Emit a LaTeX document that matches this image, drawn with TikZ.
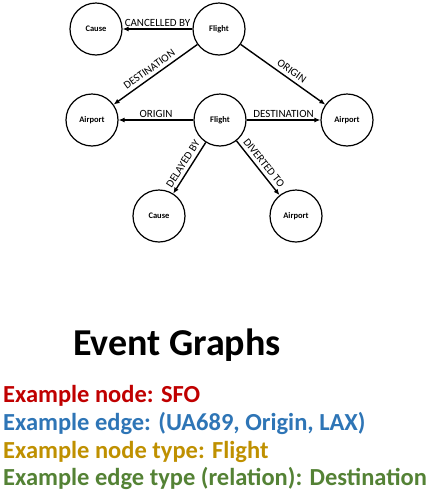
\documentclass[tikz,border=0pt]{standalone}
\usepackage{fontspec}
\setmainfont{Carlito}
\usetikzlibrary{arrows.meta}
\definecolor{cred}{RGB}{192,0,0}
\definecolor{cblue}{RGB}{46,117,182}
\definecolor{cgold}{RGB}{191,144,0}
\definecolor{cgreen}{RGB}{84,130,53}
\tikzset{
  ent/.style={circle, draw=black, line width=1.2pt, minimum size=52pt, inner sep=0pt, font=\fontsize{8.5}{9}\selectfont\bfseries},
  rel/.style={line width=1.4pt, -{Latex[length=6pt,width=5pt]}},
  lab/.style={font=\fontsize{11}{12}\selectfont, inner sep=2pt},
  slab/.style={lab, sloped, above, inner sep=3.5pt},
  legend/.style={anchor=base west, font=\fontsize{24.5}{26}\selectfont\bfseries, inner sep=0pt}
}
\begin{document}
\begin{tikzpicture}[x=1pt,y=-1pt]
\useasboundingbox (0,0) rectangle (429,496);
\node[ent] (c1) at (96,29) {Cause};
\node[ent] (f1) at (219,29) {Flight};
\node[ent] (a1) at (92,120) {Airport};
\node[ent] (f2) at (220,120) {Flight};
\node[ent] (a2) at (347,120) {Airport};
\node[ent] (c2) at (159,216) {Cause};
\node[ent] (a3) at (296,216) {Airport};
\draw[rel] (f1) -- (c1) node[lab, midway, above] {CANCELLED BY};
\draw[rel] (f1) -- (a1) node[slab, pos=0.52] {DESTINATION};
\draw[rel] (f1) -- (a2) node[slab, pos=0.55] {ORIGIN};
\draw[rel] (f2) -- (a1) node[lab, midway, above] {ORIGIN};
\draw[rel] (f2) -- (a2) node[lab, midway, above] {DESTINATION};
\draw[rel] (f2) -- (c2) node[slab, midway] {DELAYED BY};
\draw[rel] (f2) -- (a3) node[slab, midway] {DIVERTED TO};
\node[anchor=base, font=\fontsize{38}{40}\selectfont\bfseries, inner sep=0pt] (title) at (177,355) {Event Graphs};
\node[legend, text=cred] (l1) at (3,402) {Example node: SFO};
\node[legend, text=cblue] (l2) at (3,430) {Example edge: (UA689, Origin, LAX)};
\node[legend, text=cgold] (l3) at (3,458) {Example node type: Flight};
\node[legend, text=cgreen] (l4) at (3,485) {Example edge type (relation): Destination};
\end{tikzpicture}
\end{document}
